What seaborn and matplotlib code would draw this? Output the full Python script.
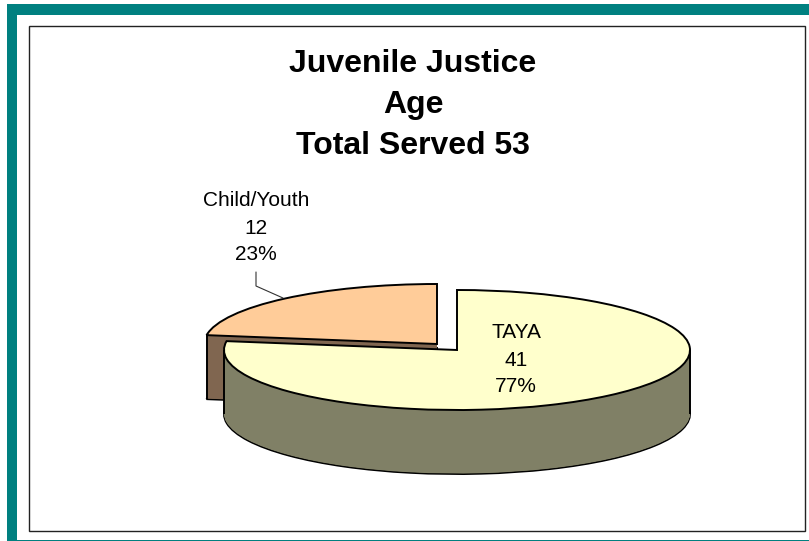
"""
Juvenile Justice - age split, drawn as a tilted "3D" exploded pie
"""
import matplotlib
matplotlib.use("Agg")
import numpy as np
import matplotlib.pyplot as plt
from matplotlib.patches import Rectangle
import seaborn as sns

sns.set_theme(style="white")
plt.rcParams["font.family"] = ["Liberation Sans", "DejaVu Sans"]

# ---------------------------------------------------------
# DATA
# ---------------------------------------------------------
title_lines = ["Juvenile Justice", "Age", "Total Served 53"]
categories = ["TAYA", "Child/Youth"]
counts = [41, 12]
percents = [77, 23]

top_colors = ["#FFFFCC", "#FFCC99"]
side_colors = ["#808066", "#806650"]

# ---------------------------------------------------------
# LAYOUT (pixels of the 809x541 picture)
# ---------------------------------------------------------
W, H = 809, 541
RX, RY = 233, 60       # ellipse of the pie top
CX, CY = 457, 350      # apex of the TAYA slice
DEPTH = 64
OFFSETS = [(0, 0), (-20, -6)]  # the child slice is pulled out up and left
TEAL = "#008080"
EDGE_LW = 1.4

fig = plt.figure(figsize=(W / 100, H / 100), dpi=100)

# pie axes: one data unit is RX wide and RY high, which tilts the pie
ax = fig.add_axes([0, 0, 1, 1], zorder=1)
ax.set_facecolor("white")


def draw_slice(i, dx, dy, color, edge):
    """draw only slice i of the pie, shifted by dx, dy pixels"""
    center = (dx / RX, -dy / RY)
    wedges, _ = ax.pie(counts, startangle=90, counterclock=False, radius=1, center=center,
                       colors=[color, color],
                       wedgeprops={"edgecolor": "black" if edge else "none",
                                   "linewidth": EDGE_LW if edge else 0})
    for j, w in enumerate(wedges):
        if j != i:
            w.remove()
    return wedges[i]


# child slice first, it sits behind the TAYA slice
for i in [1, 0]:
    ox, oy = OFFSETS[i]
    # bottom outline, then the side wall as a stack of slices, then the top
    draw_slice(i, ox, oy + DEPTH, side_colors[i], True)
    for d in range(DEPTH * 2 - 1, 0, -1):
        draw_slice(i, ox, oy + d / 2, side_colors[i], False)
    top = draw_slice(i, ox, oy, top_colors[i], True)
    if i == 0:
        # vertical silhouette at both ends of the ellipse
        ax.vlines([-1, 1], -DEPTH / RY, 0, color="black", lw=EDGE_LW)
    else:
        # left corner of the pulled out slice
        x_left = top.center[0] + top.r * np.cos(np.radians(top.theta2))
        y_left = top.center[1] + top.r * np.sin(np.radians(top.theta2))
        ax.vlines(x_left, y_left - DEPTH / RY, y_left, color="black", lw=EDGE_LW)

ax.set_aspect("auto")
ax.set_xlim(-CX / RX, (W - CX) / RX)
ax.set_ylim((CY - H) / RY, CY / RY)
ax.set_axis_off()

# ---------------------------------------------------------
# FRAME AND TEXT (pixel coordinates, y down)
# ---------------------------------------------------------
ov = fig.add_axes([0, 0, 1, 1], zorder=2)
ov.patch.set_alpha(0)
ov.set_xlim(0, W)
ov.set_ylim(H, 0)
ov.set_axis_off()

ov.add_patch(Rectangle((7, 4), W - 7, 11, fc=TEAL, ec="none"))
ov.add_patch(Rectangle((7, 4), 10, H - 4, fc=TEAL, ec="none"))
ov.add_patch(Rectangle((7, 539.5), W - 7, 1.5, fc=TEAL, ec="none"))
ov.add_patch(Rectangle((29, 25.5), 776.5, 505, fc="none", ec="#222222", lw=1.0))

for line, y in zip(title_lines, [64, 105, 146]):
    ov.text(413, y, line, ha="center", va="center", fontsize=23, fontweight="bold", color="black")

label_pos = [(516, [333, 360, 387]), (256, [201, 228, 255])]
for i, (x, ys) in enumerate(label_pos):
    rows = [categories[i], str(counts[i]), f"{percents[i]}%"]
    for row, y in zip(rows, ys):
        ov.text(x, y, row, ha="center", va="center", fontsize=15, color="black")

# leader line of the child label
ov.plot([256, 256, 283], [272, 286, 298], color="#333333", lw=0.8)

plt.savefig("out.png", dpi=100)
plt.close()
